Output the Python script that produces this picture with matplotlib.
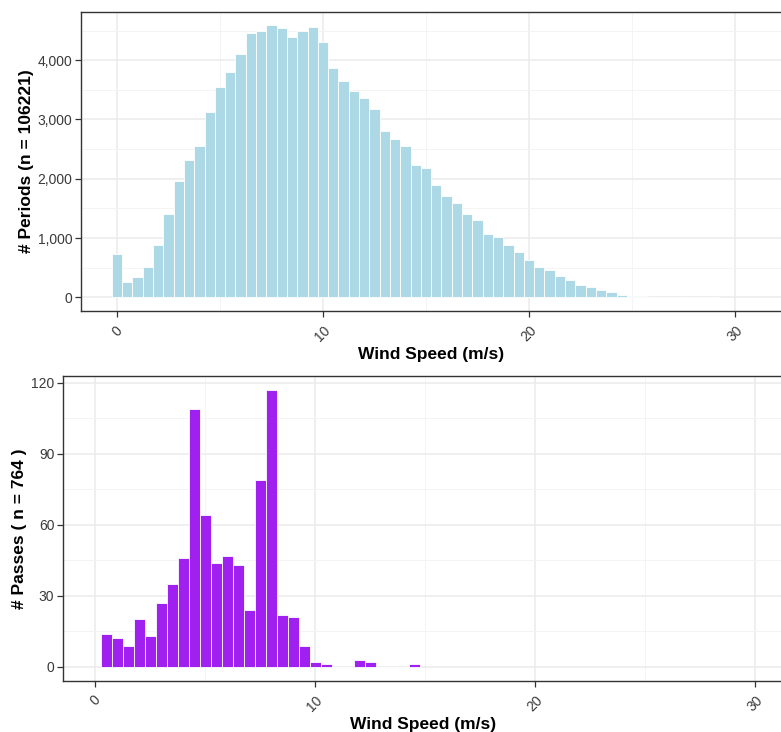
import matplotlib
matplotlib.use("Agg")
import matplotlib.pyplot as plt
from matplotlib.ticker import FuncFormatter, MultipleLocator
import numpy as np

plt.rcParams['font.family'] = ['Liberation Sans', 'DejaVu Sans']

# ---- data: top histogram (bin centers, width 0.5) ----
period_bins = [0.0, 0.5, 1.0, 1.5, 2.0, 2.5, 3.0, 3.5, 4.0, 4.5, 5.0, 5.5, 6.0, 6.5,
               7.0, 7.5, 8.0, 8.5, 9.0, 9.5, 10.0, 10.5, 11.0, 11.5, 12.0, 12.5,
               13.0, 13.5, 14.0, 14.5, 15.0, 15.5, 16.0, 16.5, 17.0, 17.5, 18.0,
               18.5, 19.0, 19.5, 20.0, 20.5, 21.0, 21.5, 22.0, 22.5, 23.0, 23.5,
               24.0, 24.5, 25.0, 25.5, 26.0, 26.5, 27.0, 27.5, 28.0, 28.5, 29.0]
period_counts = [729, 258, 336, 516, 880, 1413, 1963, 2311, 2546, 3124, 3545, 3797,
                 4100, 4453, 4492, 4588, 4543, 4386, 4492, 4554, 4307, 3870, 3646,
                 3477, 3359, 3174, 2810, 2672, 2557, 2227, 2182, 1896, 1716, 1600,
                 1413, 1301, 1071, 1010, 886, 768, 628, 505, 460, 359, 295, 210, 176,
                 118, 87, 42, 25, 22, 11, 6, 6, 5, 3, 2, 1]

# ---- data: bottom histogram ----
pass_bins = [0.5, 1.0, 1.5, 2.0, 2.5, 3.0, 3.5, 4.0, 4.5, 5.0, 5.5, 6.0, 6.5, 7.0,
             7.5, 8.0, 8.5, 9.0, 9.5, 10.0, 10.5, 11.0, 11.5, 12.0, 12.5, 13.0,
             13.5, 14.0, 14.5]
pass_counts = [14, 12, 9, 20, 13, 27, 35, 46, 109, 64, 44, 47, 43, 24,
               79, 117, 22, 21, 9, 2, 1, 0, 0, 3, 2, 0, 0, 0, 1]

x_ticks = [0, 10, 20, 30]
top_yticks = [0, 1000, 2000, 3000, 4000]
bottom_yticks = [0, 30, 60, 90, 120]

top_ylabel = "# Periods (n = 106221)"
bottom_ylabel = "# Passes ( n = 764 )"
xlabel = "Wind Speed (m/s)"

W, H = 781, 732
fig = plt.figure(figsize=(W / 100, H / 100), dpi=100)
fig.patch.set_facecolor('white')

def px_axes(left, top, right, bottom):
    return fig.add_axes([left / W, 1 - bottom / H, (right - left) / W, (bottom - top) / H])

ax1 = px_axes(80.7, 11.7, 782, 311)
ax2 = px_axes(62.7, 376, 783, 680.7)

def style(ax, xlim, ymax, yticks, yminor, ylabel, fmt, ylpad):
    ax.set_xlim(*xlim)
    ax.set_ylim(-0.05 * ymax, 1.05 * ymax)
    ax.set_xticks(x_ticks)
    ax.xaxis.set_minor_locator(MultipleLocator(5))
    ax.set_yticks(yticks)
    ax.yaxis.set_minor_locator(MultipleLocator(yminor))
    ax.grid(True, which='major', color='#EBEBEB', linewidth=1.1, zorder=0)
    ax.grid(True, which='minor', color='#F3F3F3', linewidth=0.6, zorder=0)
    ax.set_axisbelow(True)
    for s in ax.spines.values():
        s.set_color('#333333')
        s.set_linewidth(1.0)
    ax.tick_params(axis='both', which='major', color='#333333', length=4, width=0.9,
                   labelsize=10, labelcolor='#3A3A3A')
    ax.tick_params(axis='both', which='minor', length=0)
    ax.tick_params(axis='x', pad=5)
    ax.tick_params(axis='y', pad=2)
    for lab in ax.get_xticklabels():
        lab.set_rotation(45)
        lab.set_ha('center')
        lab.set_va('top')
    ax.yaxis.set_major_formatter(FuncFormatter(fmt))
    ax.set_ylabel(ylabel, fontsize=12.5, fontweight='bold', labelpad=ylpad)
    ax.set_xlabel(xlabel, fontsize=12.5, fontweight='bold', labelpad=2)

ax1.bar(period_bins, period_counts, width=0.5, color='#ADD8E6', edgecolor='white',
        linewidth=0.6, zorder=2)
style(ax1, (-1.76, 32.28), max(period_counts), top_yticks, 500, top_ylabel,
      lambda v, p: f"{int(v):,}", 2.5)

ax2.bar(pass_bins, pass_counts, width=0.5, color='#A020F0', edgecolor='white',
        linewidth=0.6, zorder=2)
style(ax2, (-1.47, 31.27), max(pass_counts), bottom_yticks, 15, bottom_ylabel,
      lambda v, p: f"{int(v)}", 3)

fig.savefig('out.png', dpi=100)
